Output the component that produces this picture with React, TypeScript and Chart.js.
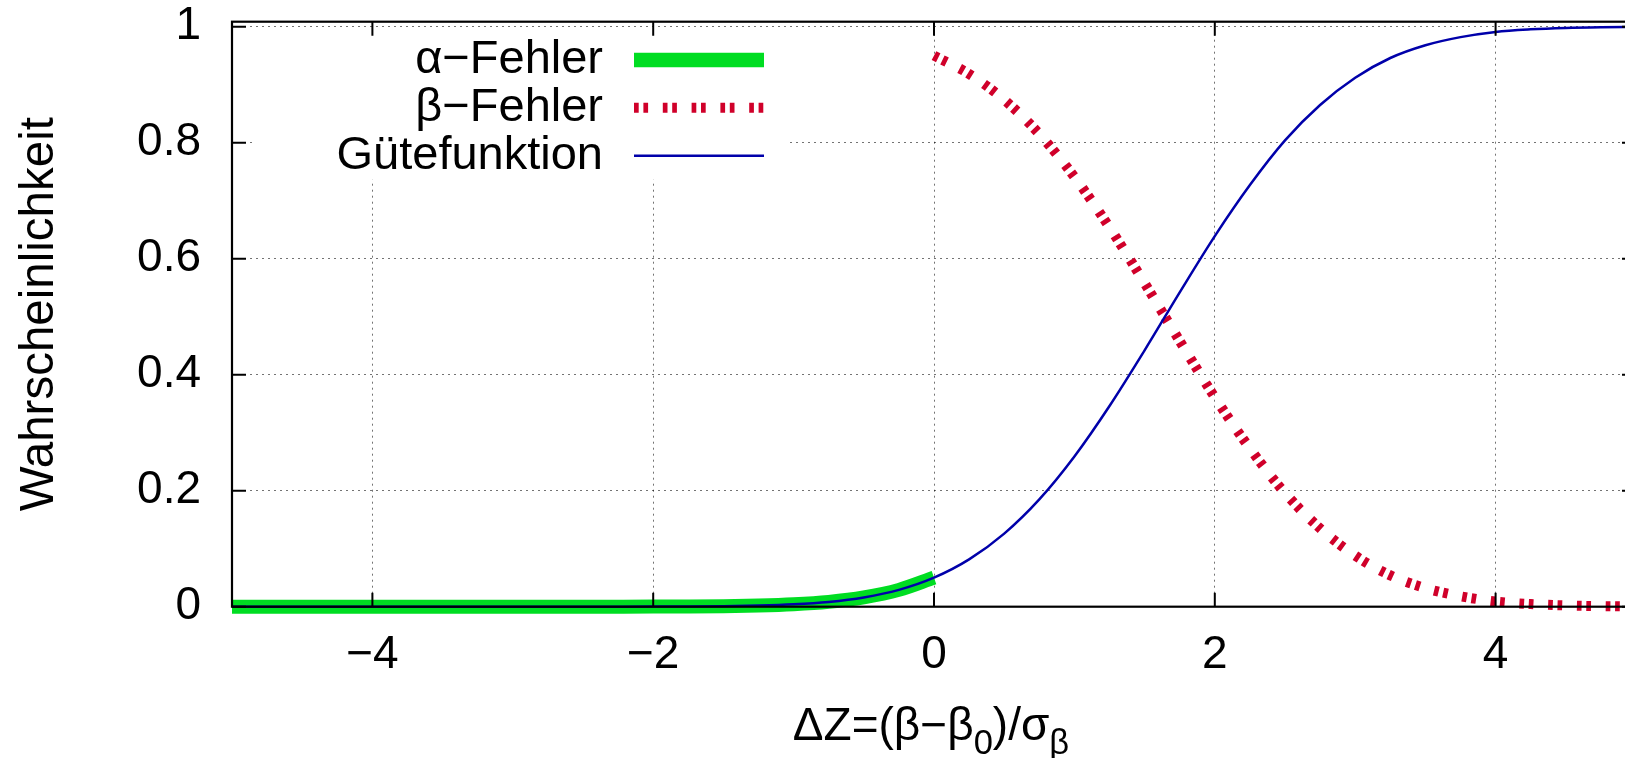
import React, { useEffect, useRef } from 'react';
import { Chart, registerables } from 'chart.js';

Chart.register(...registerables);

// ---- data ----
const xValues = [
  -5, -4.75, -4.5, -4.25, -4, -3.75, -3.5, -3.25, -3, -2.75, -2.5, -2.25, -2, -1.75, -1.5, -1.25, -1, -0.75, -0.5, -0.25,
  0, 0.25, 0.5, 0.75, 1, 1.25, 1.5, 1.75, 2, 2.25, 2.5, 2.75, 3, 3.25, 3.5, 3.75, 4, 4.25, 4.5, 4.75, 5,
];
const powerValues = [
  0, 0, 0, 0, 0, 0, 0, 0, 0.000002, 0.000006, 0.000017, 0.00005, 0.00013, 0.00034, 0.00083, 0.0019, 0.0041, 0.0083, 0.016, 0.029,
  0.05, 0.0815, 0.126, 0.185, 0.259, 0.346, 0.442, 0.542, 0.639, 0.727, 0.804, 0.865, 0.912, 0.946, 0.968, 0.982, 0.991, 0.9954, 0.9978, 0.999, 0.9996,
];
const alphaX = [-5, -4.75, -4.5, -4.25, -4, -3.75, -3.5, -3.25, -3, -2.75, -2.5, -2.25, -2, -1.75, -1.5, -1.25, -1, -0.75, -0.5, -0.25, 0];
const alphaValues = [
  0, 0, 0, 0, 0, 0, 0, 0, 0.000002, 0.000006, 0.000017, 0.00005, 0.00013, 0.00034, 0.00083, 0.0019, 0.0041, 0.0083, 0.016, 0.029, 0.05,
];
const betaX = [0, 0.25, 0.5, 0.75, 1, 1.25, 1.5, 1.75, 2, 2.25, 2.5, 2.75, 3, 3.25, 3.5, 3.75, 4, 4.25, 4.5, 4.75, 5];
const betaValues = [
  0.95, 0.9185, 0.874, 0.815, 0.741, 0.654, 0.558, 0.458, 0.361, 0.273, 0.196, 0.135, 0.088, 0.054, 0.032, 0.018, 0.009, 0.0046, 0.0022, 0.001, 0.0004,
];
const xTickValues = [-4, -2, 0, 2, 4];
const xTickLabels = ['\u22124', '\u22122', '0', '2', '4'];
const yTickValues = [0, 0.2, 0.4, 0.6, 0.8, 1];
const yTickLabels = ['0', '0.2', '0.4', '0.6', '0.8', '1'];
const seriesLabels = ['\u03b1\u2212Fehler', '\u03b2\u2212Fehler', 'G\u00fctefunktion'];
const yTitle = 'Wahrscheinlichkeit';
const xTitleParts: [string, boolean][] = [
  ['\u0394Z=(\u03b2\u2212\u03b2', false],
  ['0', true],
  [')/\u03c3', false],
  ['\u03b2', true],
];

// ---- styles ----
const FONT = '"Liberation Sans", Arial, Helvetica, sans-serif';
const FS = 46;
const FS_LEGEND = 47;
const FS_TITLE = 47.5;
const GREEN = '#00dd22';
const RED = '#d0002a';
const BLUE = '#0000aa';
const GRID = 'rgba(0,0,0,0.55)';
const RED_DASH = [4.7, 4.7, 4.7, 14.7];

const decorPlugin = {
  id: 'decor',
  beforeDatasetsDraw(chart: any) {
    const { ctx, chartArea } = chart;
    ctx.save();
    ctx.fillStyle = '#ffffff';
    ctx.fillRect(chartArea.left + 24, chartArea.top + 11, 534, 147);
    ctx.restore();
  },
  afterDatasetsDraw(chart: any) {
    const { ctx, chartArea, scales } = chart;
    const { left, right, top, bottom } = chartArea;
    const tl = 14;
    ctx.save();
    ctx.strokeStyle = '#000';
    ctx.lineWidth = 2;
    ctx.setLineDash([]);
    ctx.beginPath();
    for (const v of xTickValues) {
      const px = scales.x.getPixelForValue(v);
      ctx.moveTo(px, bottom);
      ctx.lineTo(px, bottom - tl);
      ctx.moveTo(px, top);
      ctx.lineTo(px, top + tl);
    }
    for (const v of yTickValues) {
      const py = scales.y.getPixelForValue(v);
      ctx.moveTo(left, py);
      ctx.lineTo(left + tl, py);
      ctx.moveTo(right, py);
      ctx.lineTo(right - tl, py);
    }
    ctx.stroke();
    ctx.lineWidth = 2.2;
    ctx.strokeRect(left, top, right - left, bottom - top);
    ctx.restore();
  },
  afterDraw(chart: any) {
    const { ctx, chartArea } = chart;
    const { left, top } = chartArea;
    ctx.save();
    // legend
    const textRight = left + 371;
    const x0 = left + 402;
    const x1 = left + 532;
    const rows = [top + 38.3, top + 86, top + 134];
    ctx.font = `${FS_LEGEND}px ${FONT}`;
    ctx.fillStyle = '#000';
    ctx.textAlign = 'right';
    ctx.textBaseline = 'middle';
    seriesLabels.forEach((t, i) => ctx.fillText(t, textRight, rows[i]));
    ctx.lineCap = 'butt';
    ctx.strokeStyle = GREEN;
    ctx.lineWidth = 14.6;
    ctx.beginPath();
    ctx.moveTo(x0, rows[0]);
    ctx.lineTo(x1, rows[0]);
    ctx.stroke();
    ctx.strokeStyle = RED;
    ctx.lineWidth = 10;
    ctx.setLineDash(RED_DASH);
    ctx.beginPath();
    ctx.moveTo(x0, rows[1]);
    ctx.lineTo(x1, rows[1]);
    ctx.stroke();
    ctx.setLineDash([]);
    ctx.strokeStyle = BLUE;
    ctx.lineWidth = 2.5;
    ctx.beginPath();
    ctx.moveTo(x0, rows[2]);
    ctx.lineTo(x1, rows[2]);
    ctx.stroke();

    // y title
    ctx.save();
    ctx.translate(53, (chartArea.top + chartArea.bottom) / 2);
    ctx.rotate(-Math.PI / 2);
    ctx.textAlign = 'center';
    ctx.textBaseline = 'alphabetic';
    ctx.font = `${FS_TITLE}px ${FONT}`;
    ctx.fillText(yTitle, 0, 0);
    ctx.restore();

    // x title with subscripts
    const subSize = FS * 0.75;
    let total = 0;
    const widths = xTitleParts.map(([t, sub]) => {
      ctx.font = `${sub ? subSize : FS}px ${FONT}`;
      const w = ctx.measureText(t).width;
      total += w;
      return w;
    });
    const cx = 931;
    const base = 740;
    let x = cx - total / 2;
    ctx.textAlign = 'left';
    ctx.textBaseline = 'alphabetic';
    xTitleParts.forEach(([t, sub], i) => {
      ctx.font = `${sub ? subSize : FS}px ${FONT}`;
      ctx.fillText(t, x, base + (sub ? FS * 0.3 : 0));
      x += widths[i];
    });
    ctx.restore();
  },
};

export default function App() {
  const ref = useRef<HTMLCanvasElement | null>(null);
  useEffect(() => {
    if (!ref.current) return;
    const chart = new Chart(ref.current, {
      type: 'line',
      data: {
        datasets: [
          {
            label: seriesLabels[2],
            data: xValues.map((x, i) => ({ x, y: powerValues[i] })),
            borderColor: BLUE,
            borderWidth: 2.5,
            cubicInterpolationMode: 'monotone',
            pointRadius: 0,
            fill: false,
            clip: false as any,
            order: 1,
          },
          {
            label: seriesLabels[1],
            data: betaX.map((x, i) => ({ x, y: betaValues[i] })),
            borderColor: RED,
            borderWidth: 10,
            borderDash: RED_DASH,
            borderCapStyle: 'butt',
            cubicInterpolationMode: 'monotone',
            pointRadius: 0,
            fill: false,
            clip: false as any,
            order: 2,
          },
          {
            label: seriesLabels[0],
            data: alphaX.map((x, i) => ({ x, y: alphaValues[i] })),
            borderColor: GREEN,
            borderWidth: 14,
            borderCapStyle: 'butt',
            cubicInterpolationMode: 'monotone',
            pointRadius: 0,
            fill: false,
            clip: false as any,
            order: 3,
          },
        ],
      },
      options: {
        animation: false,
        responsive: false,
        devicePixelRatio: 1,
        layout: { padding: { top: 21.7, right: 24, left: 0, bottom: 0 } },
        plugins: { legend: { display: false }, tooltip: { enabled: false }, title: { display: false } },
        scales: {
          x: {
            type: 'linear',
            min: -5,
            max: 5,
            afterBuildTicks: (s: any) => {
              s.ticks = xTickValues.map((v) => ({ value: v }));
            },
            afterFit: (s: any) => {
              s.height = 151.3;
              s.paddingLeft = 0;
              s.paddingRight = 0;
            },
            grid: { color: GRID, lineWidth: 1, drawTicks: false, tickLength: 0 },
            border: { display: false, dash: [2, 4] },
            ticks: {
              padding: 26,
              color: '#000',
              maxRotation: 0,
              autoSkip: false,
              font: { family: FONT, size: FS, lineHeight: 1 },
              callback: (v: any) => {
                const i = xTickValues.indexOf(Number(v));
                return i >= 0 ? xTickLabels[i] : '';
              },
            },
          },
          y: {
            type: 'linear',
            min: 0,
            max: 1.0086,
            afterBuildTicks: (s: any) => {
              s.ticks = yTickValues.map((v) => ({ value: v }));
            },
            afterFit: (s: any) => {
              s.width = 232;
              s.paddingTop = 0;
              s.paddingBottom = 0;
            },
            grid: { color: GRID, lineWidth: 1, drawTicks: false, tickLength: 0 },
            border: { display: false, dash: [2, 4] },
            ticks: {
              padding: 31,
              color: '#000',
              autoSkip: false,
              font: { family: FONT, size: FS, lineHeight: 1 },
              callback: (v: any) => {
                const i = yTickValues.indexOf(Number(v));
                return i >= 0 ? yTickLabels[i] : '';
              },
            },
          },
        },
      },
      plugins: [decorPlugin],
    } as any);
    return () => chart.destroy();
  }, []);

  return (
    <div style={{ position: 'fixed', left: 0, top: 0, width: 1625, height: 758, overflow: 'hidden', background: '#fff' }}>
      <canvas ref={ref} width={1660} height={758} style={{ width: 1660, height: 758, display: 'block' }} />
    </div>
  );
}
